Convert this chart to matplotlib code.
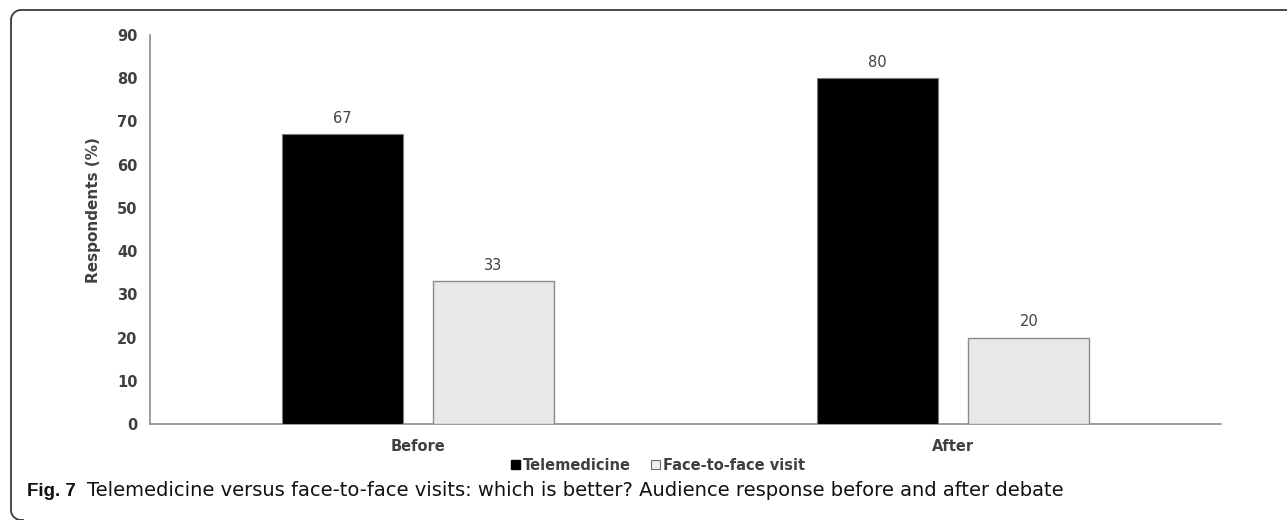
import matplotlib
matplotlib.use("Agg")
import matplotlib.pyplot as plt
from matplotlib.patches import Patch
from matplotlib.lines import Line2D
import numpy as np

# Survey results (% of respondents)
categories = ["Before", "After"]
telemedicine = [67, 80]
face_to_face = [33, 20]
series_names = ["Telemedicine", "Face-to-face visit"]
y_ticks = [0, 10, 20, 30, 40, 50, 60, 70, 80, 90]

W, H = 1287, 520
fig = plt.figure(figsize=(W / 100, H / 100), dpi=100)
fig.patch.set_facecolor("white")

ax = fig.add_axes([150 / W, 1 - 424 / H, (1221 - 150) / W, (424 - 35) / H])

text_col = "#404040"
axis_col = "#8c8c8c"
font = ["DejaVu Sans"]

x = np.arange(len(categories))
bw = 0.226
off = 0.141

b1 = ax.bar(x - off, telemedicine, width=bw, color="black", edgecolor="#7a7a7a", linewidth=0.8, zorder=3)
b2 = ax.bar(x + off, face_to_face, width=bw, color="#e8e8e8", edgecolor="#8a8a8a", linewidth=1.0, zorder=3)

for bars, vals in ((b1, telemedicine), (b2, face_to_face)):
    for rect, v in zip(bars, vals):
        ax.annotate(f"{v}", (rect.get_x() + rect.get_width() / 2, v),
                    xytext=(0, 6), textcoords="offset points",
                    ha="center", va="bottom", fontsize=10.5,
                    color=text_col, family=font)

ax.set_xlim(-0.5, 1.5)
ax.set_ylim(0, 90)
ax.set_yticks(y_ticks)
ax.set_xticks(x)
ax.set_xticklabels(categories)
for lab in ax.get_yticklabels() + ax.get_xticklabels():
    lab.set_fontweight("bold")
    lab.set_fontsize(10.5)
    lab.set_color(text_col)
    lab.set_family(font)
ax.tick_params(axis="y", length=0, pad=9)
ax.tick_params(axis="x", length=0, pad=11)

for s in ("top", "right"):
    ax.spines[s].set_visible(False)
for s in ("left", "bottom"):
    ax.spines[s].set_color(axis_col)
    ax.spines[s].set_linewidth(1.2)

ax.set_ylabel("Respondents (%)", fontsize=11, fontweight="bold", color=text_col, family=font)
ax.yaxis.set_label_coords(-0.046, 0.55)

handles = [Patch(facecolor="black", edgecolor="black"),
           Patch(facecolor="#eeeeee", edgecolor="#6a6a6a", linewidth=0.8)]
leg = fig.legend(handles, series_names, loc="center", bbox_to_anchor=(658 / W, 1 - 465 / H),
                 ncol=2, frameon=False, handlelength=0.6, handleheight=0.6,
                 handletextpad=0.2, columnspacing=1.4,
                 prop={"family": font, "weight": "bold", "size": 10.5})
for t in leg.get_texts():
    t.set_color(text_col)

# Caption
fig.text(27 / W, 1 - 491 / H, "Fig. 7", fontsize=13.5, fontweight="bold",
         family=["Liberation Sans", "DejaVu Sans"], va="center", ha="left", color="#111111")
fig.text(87 / W, 1 - 491 / H,
         "Telemedicine versus face-to-face visits: which is better? Audience response before and after debate",
         fontsize=14, family=["DejaVu Sans"], va="center", ha="left", color="#111111")

# Frame: top edge and left edge with rounded corners (pixel coordinates, y down)
r = 10
left, top, bottom = 11, 10, 520
t1 = np.linspace(np.pi / 2, np.pi, 12)
t2 = np.linspace(np.pi, 3 * np.pi / 2, 12)
px = np.concatenate([[W + 5], left + r + r * np.cos(t1), left + r + r * np.cos(t2), [left + r + 3]])
py = np.concatenate([[top], top + r - r * np.sin(t1), bottom - r - r * np.sin(t2), [bottom]])
fig.lines.append(Line2D(px / W, 1 - py / H, transform=fig.transFigure,
                        color="#3a3a3a", linewidth=1.3, solid_capstyle="butt"))

fig.savefig("out.png", dpi=100)
